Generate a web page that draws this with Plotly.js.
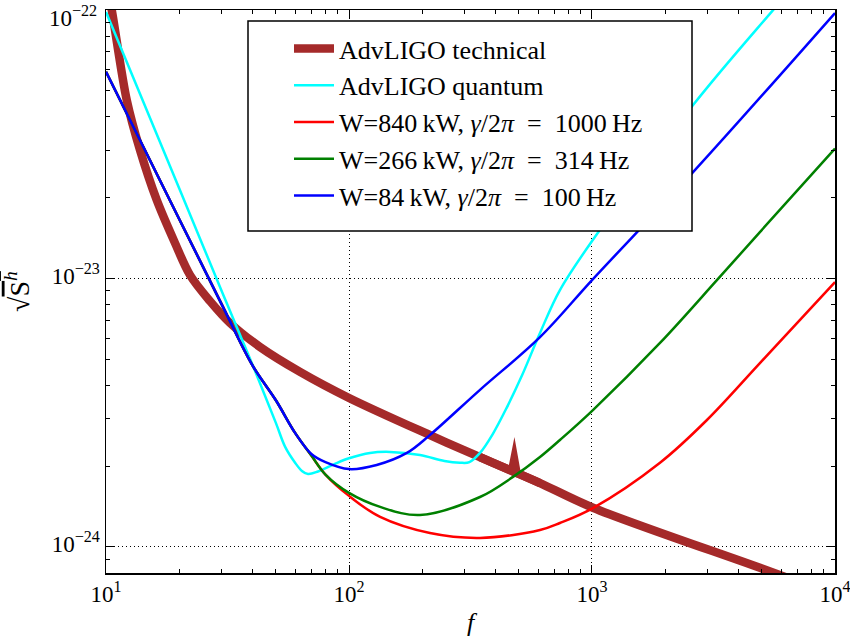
<!DOCTYPE html>
<html>
<head>
<meta charset="utf-8">
<script src="https://cdn.plot.ly/plotly-3.0.1.min.js"></script>
<style>
body{margin:0;background:#fff}
#chart{width:850px;height:638px}
#chart path.js-line{stroke-linejoin:miter;stroke-miterlimit:12}
</style>
</head>
<body>
<div id="chart"></div>
<script>
// AdvLIGO technical noise
const techF = [10, 10.56, 12.17, 13.8, 16.17, 19.23, 22.17, 26.79, 32.38, 43.02, 62.86, 100, 215.4, 346, 468.8, 478.6, 489.2, 611, 1009, 4910, 10000];
const techS = [1.3e-22, 1.0e-22, 4.62e-23, 3.01e-23, 1.96e-23, 1.355e-23, 1.03e-23, 8.24e-24, 6.83e-24, 5.56e-24, 4.49e-24, 3.59e-24, 2.61e-24, 2.16e-24, 1.919e-24, 2.11e-24, 1.888e-24, 1.73e-24, 1.40e-24, 8.36e-25, 6.62e-25];
const techSpikeIndex = 15; // narrow resonance peak near 480 Hz
// AdvLIGO quantum noise
const quantF = [10, 20, 30, 40, 50, 54.6, 60, 64, 67.8, 74.5, 87.5, 100, 122, 147.6, 196, 247, 286, 313, 346, 391, 447, 516, 611, 738, 1079, 2606, 5560, 10000];
const quantS = [9.84e-23, 2.17e-23, 8.93e-24, 4.79e-24, 2.90e-24, 2.36e-24, 2.06e-24, 1.92e-24, 1.87e-24, 1.91e-24, 2.04e-24, 2.14e-24, 2.24e-24, 2.26e-24, 2.20e-24, 2.09e-24, 2.06e-24, 2.07e-24, 2.24e-24, 2.64e-24, 3.32e-24, 4.37e-24, 6.27e-24, 9.06e-24, 1.52e-23, 4.43e-23, 1.0e-22, 1.84e-22];
// W=840 kW, gamma/2pi = 1000 Hz
const redF = [10, 20, 30, 40, 50, 60, 70, 80, 100, 134.3, 215.3, 346, 611, 738, 1009, 1905, 2972, 4910, 10000];
const redS = [5.89e-23, 1.667e-23, 7.98e-24, 4.76e-24, 3.52e-24, 2.66e-24, 2.19e-24, 1.86e-24, 1.55e-24, 1.294e-24, 1.127e-24, 1.081e-24, 1.156e-24, 1.228e-24, 1.396e-24, 2.06e-24, 2.972e-24, 4.842e-24, 9.7e-24];
// W=266 kW, gamma/2pi = 314 Hz
const greenF = [10, 20, 30, 40, 50, 60, 70, 80, 100, 134.3, 195.9, 346, 473, 611, 738, 1009, 1905, 3266, 4910, 10000];
const greenS = [5.89e-23, 1.667e-23, 7.98e-24, 4.76e-24, 3.52e-24, 2.66e-24, 2.19e-24, 1.86e-24, 1.59e-24, 1.41e-24, 1.315e-24, 1.535e-24, 1.824e-24, 2.163e-24, 2.503e-24, 3.236e-24, 5.754e-24, 9.86e-24, 1.49e-23, 3.05e-23];
// W=84 kW, gamma/2pi = 100 Hz
const blueF = [10, 20, 30, 40, 50, 60, 70, 80, 100, 130, 173, 215, 346, 611, 1009, 2606, 10000];
const blueS = [5.89e-23, 1.667e-23, 7.98e-24, 4.76e-24, 3.52e-24, 2.66e-24, 2.22e-24, 2.07e-24, 1.95e-24, 2.02e-24, 2.24e-24, 2.61e-24, 3.85e-24, 6.05e-24, 9.95e-24, 2.49e-23, 9.75e-23];

const names = ['AdvLIGO technical', 'AdvLIGO quantum',
  'W=840\u2009kW, <i>γ</i>/2<i>π</i>\u2002=\u20021000\u2009Hz',
  'W=266\u2009kW, <i>γ</i>/2<i>π</i>\u2002=\u2002314\u2009Hz',
  'W=84\u2009kW, <i>γ</i>/2<i>π</i>\u2002=\u2002100\u2009Hz'];
const colors = ['#a52a2a', '#00ffff', '#ff0000', '#008000', '#0000ff'];

const xTickVals = [10, 100, 1000, 10000];
const xTickText = ['10<sup>1</sup>', '10<sup>2</sup>', '10<sup>3</sup>', '10<sup>4</sup>'];
const yTickVals = [1e-24, 1e-23, 1e-22];
const yTickText = ['10<sup>−24</sup>', '10<sup>−23</sup>', ''];
const yTopLabel = '10<sup>−22</sup>';

// technical curve: smooth body (without the sharp peak) + sharp peak segment
const techBodyF = techF.filter((_, i) => i !== techSpikeIndex);
const techBodyS = techS.filter((_, i) => i !== techSpikeIndex);
const techPeakF = techF.slice(techSpikeIndex - 2, techSpikeIndex + 3);
const techPeakS = techS.slice(techSpikeIndex - 2, techSpikeIndex + 3);

const traces = [
  {x: techBodyF, y: techBodyS, type: 'scatter', mode: 'lines', name: names[0], legendgroup: 'g0',
   line: {color: colors[0], width: 8.5, shape: 'spline', smoothing: 0.9}, hoverinfo: 'skip'},
  {x: techPeakF, y: techPeakS, type: 'scatter', mode: 'lines', name: names[0], legendgroup: 'g0', showlegend: false,
   line: {color: colors[0], width: 8.5, shape: 'linear'}, hoverinfo: 'skip'}
];
[[quantF, quantS], [redF, redS], [greenF, greenS], [blueF, blueS]].forEach((s, k) => {
  const i = k + 1;
  traces.push({x: s[0], y: s[1], type: 'scatter', mode: 'lines', name: names[i], legendgroup: 'g' + i,
    line: {color: colors[i], width: 2.5, shape: 'spline', smoothing: 1}, hoverinfo: 'skip'});
});

const font = 'Liberation Serif, Times New Roman, serif';
const axisCommon = {
  type: 'log', showline: true, linecolor: 'black', linewidth: 1.5, mirror: 'allticks',
  ticks: 'inside', ticklen: 8, tickwidth: 1, tickcolor: 'black',
  showgrid: true, gridcolor: 'black', griddash: '1px,3px', gridwidth: 1,
  zeroline: false, tickmode: 'array', ticklabeloverflow: 'allow',
  tickfont: {family: font, size: 23, color: 'black'},
  minor: {ticks: 'inside', ticklen: 4, tickcolor: 'black', dtick: 'D1', showgrid: false}
};

const layout = {
  width: 850, height: 638,
  margin: {l: 106, r: 15, t: 10, b: 65},
  paper_bgcolor: 'white', plot_bgcolor: 'white',
  showlegend: true,
  xaxis: Object.assign({}, axisCommon, {
    range: [0.9999, 4.0001], tickvals: xTickVals, ticktext: xTickText,
    title: {text: '<i>f</i>', font: {family: font, size: 26, color: 'black'}, standoff: 6}
  }),
  yaxis: Object.assign({}, axisCommon, {
    range: [-24.097, -21.9995], tickvals: yTickVals, ticktext: yTickText, ticklabelshift: -3,
    title: {text: '√<span style="text-decoration:overline">S<sup><i>h</i></sup></span>', font: {family: font, size: 28, color: 'black'}, standoff: 20}
  }),
  annotations: [{
    text: yTopLabel, xref: 'paper', yref: 'y', x: 0, y: -22,
    xanchor: 'right', yanchor: 'top', xshift: -7, yshift: 10, showarrow: false,
    font: {family: font, size: 23, color: 'black'}
  }],
  shapes: [{
    type: 'rect', xref: 'paper', yref: 'paper', layer: 'above',
    x0: (248 - 106) / 729, x1: (692 - 106) / 729,
    y0: 1 - (231 - 10) / 563, y1: 1 - (21 - 10) / 563,
    fillcolor: 'white', line: {color: 'black', width: 1.5}
  }],
  legend: {
    x: (289 - 106) / 729, y: 1 - (25 - 10) / 563, xanchor: 'left', yanchor: 'top',
    bgcolor: 'rgba(0,0,0,0)', borderwidth: 0,
    font: {family: font, size: 26, color: 'black'},
    traceorder: 'grouped', tracegroupgap: 0, itemwidth: 40
  }
};

Plotly.newPlot('chart', traces, layout, {displayModeBar: false, staticPlot: true});
</script>
</body>
</html>
